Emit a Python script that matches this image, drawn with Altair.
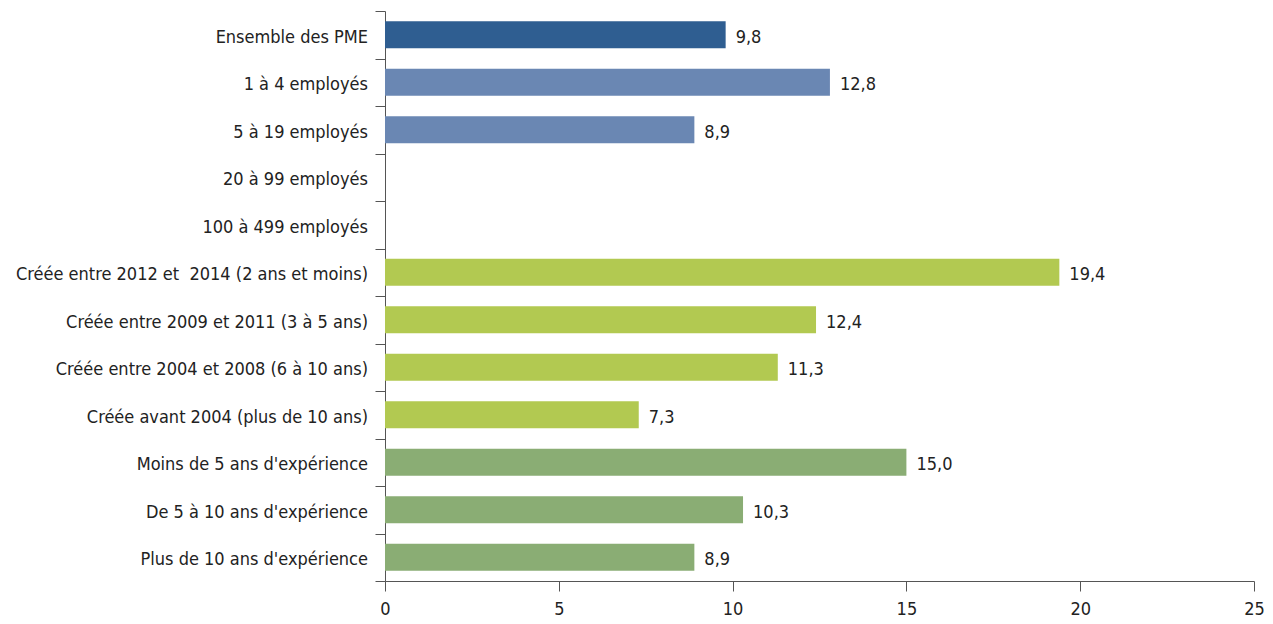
import altair as alt
import pandas as pd

categories = [
    "Ensemble des PME",
    "1 à 4 employés",
    "5 à 19 employés",
    "20 à 99 employés",
    "100 à 499 employés",
    "Créée entre 2012 et\u00a0 2014 (2 ans et moins)",
    "Créée entre 2009 et 2011 (3 à 5 ans)",
    "Créée entre 2004 et 2008 (6 à 10 ans)",
    "Créée avant 2004 (plus de 10 ans)",
    "Moins de 5 ans d'expérience",
    "De 5 à 10 ans d'expérience",
    "Plus de 10 ans d'expérience",
]
values = [9.8, 12.8, 8.9, None, None, 19.4, 12.4, 11.3, 7.3, 15.0, 10.3, 8.9]
groups = ["all", "size", "size", "size", "size", "age", "age", "age", "age", "exp", "exp", "exp"]
group_names = ["all", "size", "age", "exp"]
group_colors = ["#2F5E91", "#6A87B3", "#B2C951", "#8AAD74"]

df = pd.DataFrame({"cat": categories, "val": values, "grp": groups})
df["label"] = df["val"].map(lambda v: "" if pd.isna(v) else f"{v:.1f}".replace(".", ","))

FONT = "Liberation Sans Narrow, DejaVu Sans Condensed, sans-serif"

y = alt.Y("cat:N", sort=categories, title=None,
          scale=alt.Scale(paddingInner=0, paddingOuter=0),
          axis=alt.Axis(labels=False, tickSize=10, tickColor="#555555",
                        domainColor="#555555", tickBand="extent"))

bars = alt.Chart(df).mark_bar(height=alt.RelativeBandSize(0.57)).encode(
    x=alt.X("val:Q", title=None,
            scale=alt.Scale(domain=[0, 25], nice=False),
            axis=alt.Axis(values=[0, 5, 10, 15, 20, 25], grid=False, labelFont=FONT,
                          labelFontSize=18, labelColor="#222222", tickSize=10,
                          labelFlush=False, labelPadding=9,
                          tickColor="#555555", domainColor="#555555")),
    y=y,
    color=alt.Color("grp:N", scale=alt.Scale(domain=group_names, range=group_colors), legend=None),
)

ylabels = alt.Chart(df).mark_text(
    align="right", baseline="middle", dy=3, font=FONT, fontSize=18, color="#222222"
).encode(x=alt.value(-17), y=alt.Y("cat:N", sort=categories), text="cat:N")

text = alt.Chart(df).transform_filter("isValid(datum.val)").mark_text(
    align="left", baseline="middle", dx=10, dy=3, font=FONT, fontSize=18, color="#222222"
).encode(x="val:Q", y=alt.Y("cat:N", sort=categories), text="label:N")

chart = (bars + ylabels + text).properties(
    width=869, height=570,
    autosize=alt.AutoSizeParams(type="none"),
    padding={"left": 377, "top": 3, "right": 10, "bottom": 40},
).configure_view(stroke=None)

chart.save("out.html", embed_options={"renderer": "svg", "actions": False})
